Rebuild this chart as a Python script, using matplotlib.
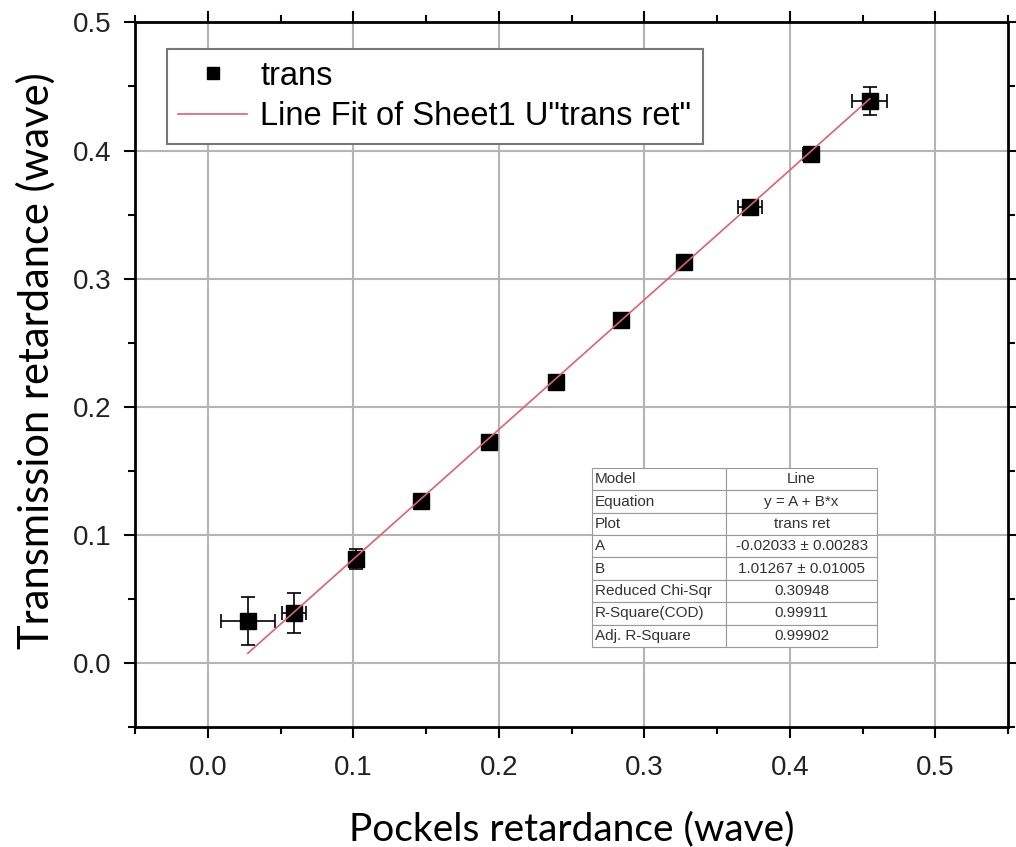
import numpy as np
import matplotlib
matplotlib.use("Agg")
import matplotlib.pyplot as plt

# Pockels vs transmission retardance (wave) with measurement uncertainties
pockels = [0.0275, 0.0592, 0.1021, 0.1462, 0.1931, 0.2393, 0.2841, 0.3276, 0.3727, 0.4145, 0.4550]
trans = [0.0328, 0.0388, 0.0810, 0.1265, 0.1723, 0.2191, 0.2678, 0.3133, 0.3562, 0.3971, 0.4387]
pockels_err = [0.0185, 0.0083, 0.0040, 0.0020, 0.0020, 0.0020, 0.0020, 0.0030, 0.0080, 0.0055, 0.0120]
trans_err = [0.0190, 0.0158, 0.0078, 0.0020, 0.0020, 0.0020, 0.0020, 0.0020, 0.0020, 0.0040, 0.0110]

# Linear fit results y = A + B*x
fit_A = -0.02033
fit_A_err = 0.00283
fit_B = 1.01267
fit_B_err = 0.01005
red_chi_sqr = 0.30948
r_square = 0.99911
adj_r_square = 0.99902

fit_rows = [
    ("Model", "Line"),
    ("Equation", "y = A + B*x"),
    ("Plot", "trans ret"),
    ("A", f"{fit_A:.5f} \u00b1 {fit_A_err:.5f}"),
    ("B", f"{fit_B:.5f} \u00b1 {fit_B_err:.5f}"),
    ("Reduced Chi-Sqr", f"{red_chi_sqr:.5f}"),
    ("R-Square(COD)", f"{r_square:.5f}"),
    ("Adj. R-Square", f"{adj_r_square:.5f}"),
]

plt.rcParams['font.family'] = ['Liberation Sans', 'DejaVu Sans']

fig = plt.figure(figsize=(10.16, 8.47), dpi=100)
ax = fig.add_axes([0.1329, 0.1417, 0.8593, 0.8318])

ax.errorbar(pockels, trans, xerr=pockels_err, yerr=trans_err, fmt='none',
            ecolor='black', elinewidth=1.2, capsize=5, capthick=1.2, zorder=3)
ax.plot(pockels, trans, 's', color='black', markersize=11, label='trans', zorder=4)

x_fit = np.array([min(pockels), max(pockels)])
ax.plot(x_fit, fit_A + fit_B * x_fit, color='#e0606e', linewidth=1.2,
        label='Line Fit of Sheet1 U"trans ret"', zorder=5)

ax.set_xlim(-0.05, 0.55)
ax.set_ylim(-0.05, 0.5)
ax.set_xticks(np.arange(0, 0.51, 0.1))
ax.set_yticks(np.arange(0, 0.51, 0.1))
ax.set_xticks(np.arange(-0.05, 0.56, 0.05), minor=True)
ax.set_yticks(np.arange(-0.05, 0.51, 0.05), minor=True)
ax.xaxis.set_major_formatter(matplotlib.ticker.FormatStrFormatter('%.1f'))
ax.yaxis.set_major_formatter(matplotlib.ticker.FormatStrFormatter('%.1f'))

ax.grid(True, which='major', color='#b4b4b4', linewidth=1.5, zorder=0)
ax.set_axisbelow(True)
for s in ax.spines.values():
    s.set_linewidth(2)
    s.set_color('black')

ax.tick_params(which='both', direction='out', top=True, right=True, width=1.5, colors='black')
ax.tick_params(which='major', length=8)
ax.tick_params(which='minor', length=5)
ax.tick_params(axis='x', which='major', labelsize=20, pad=12, labelcolor='#222222')
ax.tick_params(axis='y', which='major', labelsize=20, pad=9, labelcolor='#222222')

ax.set_xlabel('Pockels retardance (wave)', family=['Lato', 'DejaVu Sans'], fontsize=28, labelpad=22)
ax.set_ylabel('Transmission retardance (wave)', family=['Lato', 'DejaVu Sans'], fontsize=30, labelpad=12)
ax.yaxis.label.set_y(0.52)

leg = ax.legend(loc='upper left', bbox_to_anchor=(0.0367, 0.962), borderaxespad=0,
                fontsize=23.5, fancybox=False, edgecolor='#777777', framealpha=1,
                handlelength=2.1, handletextpad=0.4, labelspacing=0.3,
                borderpad=0.35, markerscale=0.75)
leg.get_frame().set_linewidth(1.5)

# Fit summary table
tbl = ax.table(cellText=[list(r) for r in fit_rows], cellLoc='center',
               colWidths=[0.47, 0.53], bbox=[0.5235, 0.1136, 0.3265, 0.254], zorder=6)
tbl.auto_set_font_size(False)
for (r, c), cell in tbl.get_celld().items():
    cell.set_edgecolor('#999999')
    cell.set_linewidth(0.8)
    cell.set_facecolor('white')
    cell.get_text().set_fontsize(11)
    cell.get_text().set_color('#333333')
    if c == 0:
        cell.get_text().set_horizontalalignment('left')
        cell.PAD = 0.02

fig.savefig('out.png', dpi=100, facecolor='white')
